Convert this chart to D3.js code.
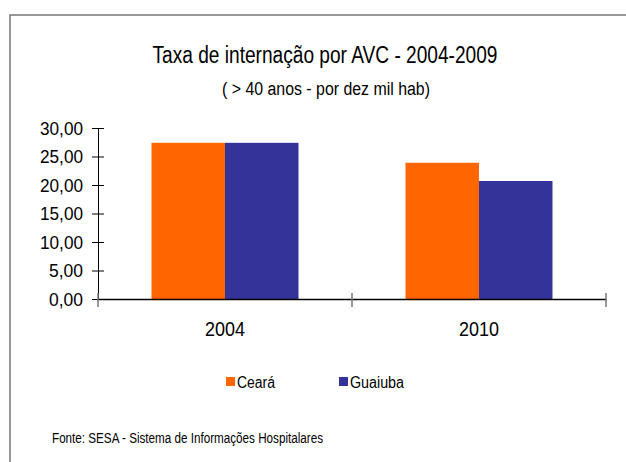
<!DOCTYPE html>
<html><head><meta charset="utf-8">
<script src="https://cdn.jsdelivr.net/npm/d3@7"></script>
<style>body{margin:0;background:#fff}svg{display:block}text{font-family:"Liberation Sans",Arial,sans-serif;fill:#000}</style>
</head><body>
<svg id="c" width="626" height="462"></svg>
<script>
const categories = ["2004", "2010"];
const seriesNames = ["Ceará", "Guaiuba"];
const cearaValues = [27.4, 23.9];
const guaiubaValues = [27.4, 20.7];
const yTicks = [0, 5, 10, 15, 20, 25, 30];
const colors = ["#FF6600", "#333399"];
const title = "Taxa de internação por AVC - 2004-2009";
const subtitle = "( > 40 anos - por dez mil hab)";
const source = "Fonte: SESA - Sistema de Informações Hospitalares";

const svg = d3.select("#c");
const FF = "Liberation Sans, Arial, sans-serif";
// border
svg.append("path").attr("d","M10,462V15H626").attr("fill","none").attr("stroke","#777").attr("stroke-width",1.5);

const mLeft = 98, mRight = 606, mTop = 128, mBottom = 299;
const y = d3.scaleLinear().domain([0,30]).range([mBottom, mTop]);
const x0 = d3.scaleBand().domain(categories).range([mLeft, mRight]);
const x1 = d3.scaleBand().domain(seriesNames).range([0, x0.bandwidth()]).paddingOuter(0.728);

const data = categories.map((c,i)=>({cat:c, vals:[cearaValues[i], guaiubaValues[i]]}));

const g = svg.append("g");
data.forEach(d=>{
  d.vals.forEach((v,j)=>{
    g.append("rect").attr("x", x0(d.cat)+x1(seriesNames[j])).attr("width", x1.bandwidth())
      .attr("y", y(v)).attr("height", mBottom - y(v)).attr("fill", colors[j]);
  });
});

// y axis
const yAxis = svg.append("g").attr("transform",`translate(${mLeft},0)`)
  .call(d3.axisLeft(y).tickValues(yTicks).tickSize(6).tickFormat(d=>d3.format(".2f")(d).replace(".",",")));
yAxis.select(".domain").attr("stroke","#000");
yAxis.selectAll(".tick line").attr("x2",6).attr("x1",-6).attr("stroke","#000");
yAxis.selectAll(".tick text").attr("x",-15).attr("dy","0.36em").style("font-size","18px").style("font-family",FF)
  .attr("textLength",d=>d>=10?43:34).attr("lengthAdjust","spacingAndGlyphs");

// x axis
const xAxis = svg.append("g").attr("transform",`translate(0,${mBottom})`)
  .call(d3.axisBottom(x0).tickSize(0).tickPadding(23));
xAxis.select(".domain").attr("stroke","#000").attr("stroke-width",1.5);
xAxis.selectAll(".tick text").style("font-size","20px").style("font-family",FF)
  .attr("textLength",40).attr("lengthAdjust","spacingAndGlyphs");
const bounds = categories.map(c=>x0(c)).concat([mRight]);
svg.append("g").selectAll("line").data(bounds).join("line")
  .attr("x1",d=>d).attr("x2",d=>d).attr("y1",mBottom-6).attr("y2",mBottom+8).attr("stroke","#777").attr("stroke-width",1.5);

// titles
svg.append("text").attr("x",325).attr("y",63).attr("text-anchor","middle").style("font-size","23px").attr("textLength",345).attr("lengthAdjust","spacingAndGlyphs").text(title);
svg.append("text").attr("x",326).attr("y",95).attr("text-anchor","middle").style("font-size","18px").attr("textLength",208).attr("lengthAdjust","spacingAndGlyphs").text(subtitle);

// legend
const legX = [226, 339];
const legW = [38, 54];
seriesNames.forEach((s,i)=>{
  svg.append("rect").attr("x",legX[i]).attr("y",377).attr("width",9).attr("height",9).attr("fill",colors[i]);
  svg.append("text").attr("x",legX[i]+11).attr("y",388).style("font-size","16px").attr("textLength",legW[i]).attr("lengthAdjust","spacingAndGlyphs").text(s);
});

svg.append("text").attr("x",52).attr("y",443).style("font-size","14px").attr("textLength",271).attr("lengthAdjust","spacingAndGlyphs").text(source);
</script>
</body></html>
